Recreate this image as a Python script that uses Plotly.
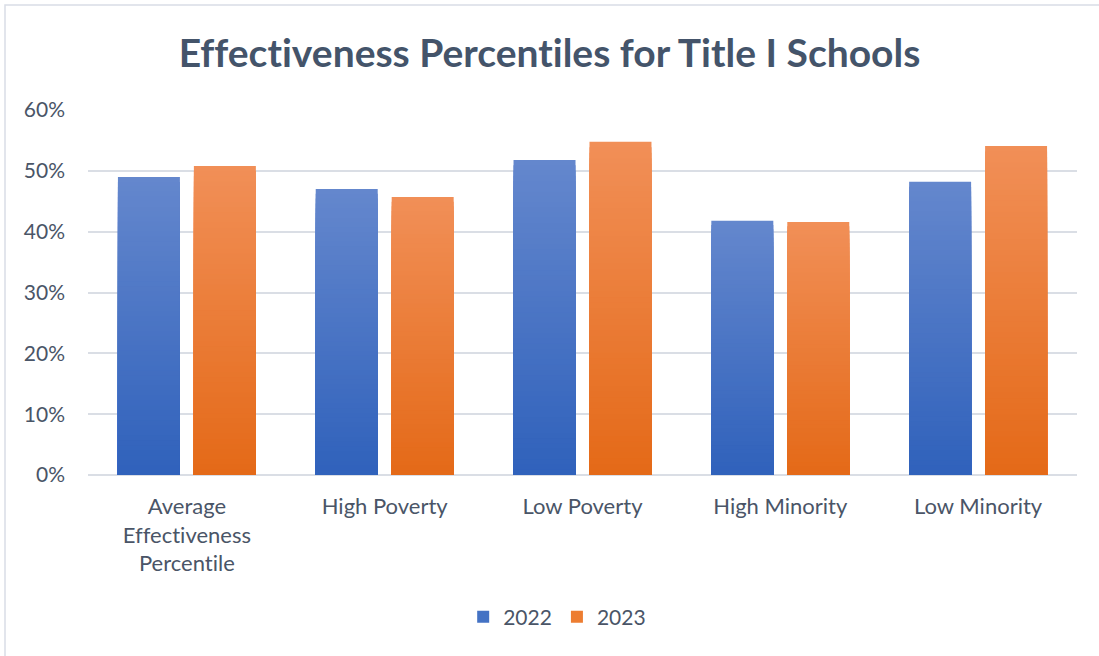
import plotly.graph_objects as go

ZWNJ = "\u200c"  # keeps Lato from forming ff / ti ligatures

# Chart data
categories = ["Average<br>Ef" + ZWNJ + "fec" + "t" + ZWNJ + "iveness<br>Percent" + ZWNJ + "ile",
              "High Poverty", "Low Poverty", "High Minority", "Low Minority"]
values_2022 = [0.490, 0.470, 0.518, 0.418, 0.482]
values_2023 = [0.508, 0.457, 0.548, 0.416, 0.541]
y_ticks = [0, 0.1, 0.2, 0.3, 0.4, 0.5, 0.6]
title_text = ("Ef" + ZWNJ + "fect" + ZWNJ + "iveness Percent" + ZWNJ + "iles for T" + ZWNJ
              + "itle I Schools")

# Vertical gradient colours (bottom -> top)
grad_2022 = ((0x2f, 0x61, 0xbb), (0x64, 0x87, 0xcd))
grad_2023 = ((0xe4, 0x69, 0x17), (0xf1, 0x8f, 0x57))

N_STEPS = 60

W, H = 1099, 656
L, R, T, B = 88, 22, 110, 181
PW, PH = W - L - R, H - T - B


def lerp(c0, c1, t):
    return "rgb(%d,%d,%d)" % tuple(round(a + (b - a) * t) for a, b in zip(c0, c1))


fig = go.Figure()


def add_gradient_bars(name, values, grad, mid_color):
    # Tallest layer first; each shorter layer overlays the lower part with a darker shade
    for k in range(N_STEPS):
        frac = 1 - k / N_STEPS
        fig.add_trace(go.Bar(
            x=categories,
            y=[v * frac for v in values],
            offsetgroup=name,
            marker=dict(color=lerp(grad[0], grad[1], frac), line=dict(width=0)),
            showlegend=False,
            legendgroup=name,
            hoverinfo="skip",
        ))
    # legend entry (zero-height)
    fig.add_trace(go.Bar(
        x=categories, y=[0] * len(values), offsetgroup=name, name=name,
        marker=dict(color=mid_color, line=dict(width=0)), legendgroup=name,
        showlegend=True, hoverinfo="skip",
    ))


add_gradient_bars("2022", values_2022, grad_2022, "#4472c4")
add_gradient_bars("2023", values_2023, grad_2023, "#ed7d31")

font_family = "Lato, 'Open Sans', sans-serif"
text_color = "#4a5567"

# light frame around the chart
fig.add_shape(type="rect", xref="paper", yref="paper",
              x0=(5 - L) / PW, x1=(W + 5 - L) / PW,
              y0=(H - B - (H + 5)) / PH, y1=(H - B - 5) / PH,
              line=dict(color="#d9dde6", width=1.5), fillcolor="rgba(0,0,0,0)", layer="below")

fig.update_layout(
    width=W, height=H,
    margin=dict(l=L, r=R, t=T, b=B),
    paper_bgcolor="white", plot_bgcolor="white",
    barmode="group", bargap=0.232, bargroupgap=0.184,
    title=dict(text="<b>" + title_text + "</b>",
               x=0.5, xref="container", xanchor="center",
               y=(H - 53) / H, yref="container", yanchor="middle",
               font=dict(family=font_family, size=39, color="#44546a")),
    font=dict(family=font_family, size=21, color=text_color),
    xaxis=dict(showgrid=False, showline=False, ticks="", ticklabelstandoff=16,
               tickfont=dict(size=22, color=text_color)),
    yaxis=dict(range=[0, 0.6], tickvals=y_ticks, tickformat=".0%",
               showgrid=True, gridcolor="#dadee5", gridwidth=1.5,
               zeroline=True, zerolinecolor="#dadee5", zerolinewidth=1.5,
               showline=False, ticks="", ticklabelstandoff=22,
               tickfont=dict(size=21, color=text_color)),
    legend=dict(orientation="h", x=0.507, xref="container", xanchor="center",
                y=(H - 617) / H, yref="container", yanchor="middle",
                font=dict(size=21, color=text_color), itemwidth=30,
                traceorder="normal"),
)

fig.write_html("out.html")
